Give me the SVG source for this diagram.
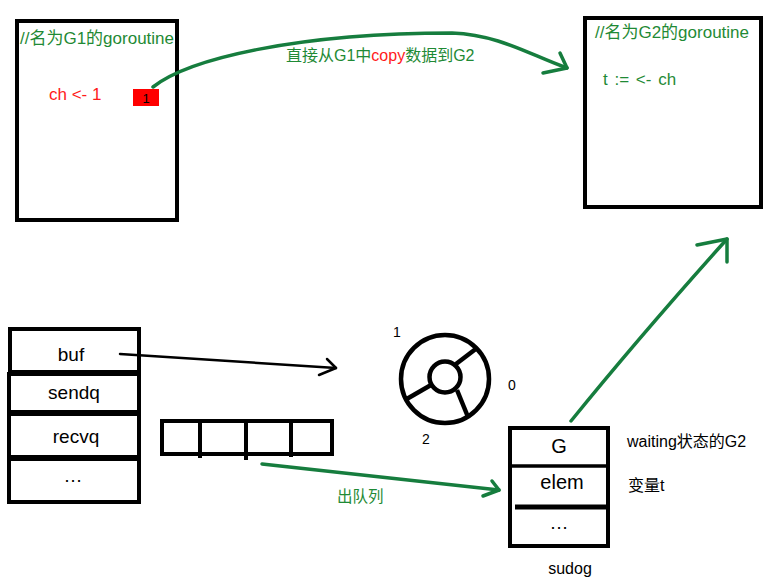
<svg xmlns="http://www.w3.org/2000/svg" width="774" height="584" viewBox="0 0 774 584">
<style>
text{font-family:"Liberation Sans","Noto Sans CJK SC",sans-serif;}
.box{fill:none;stroke:#000;stroke-width:4;}
.g{fill:#1f8a35;}
.r{fill:#ff1a1a;}
.k{fill:#000;}
.gl{fill:none;stroke:#167d3e;stroke-width:3.5;stroke-linecap:round;stroke-linejoin:round;}
.bl{fill:none;stroke:#000;stroke-width:2.5;stroke-linecap:round;stroke-linejoin:round;}
</style>
<rect width="774" height="584" fill="#fff"/>
<g id="g1">
<rect class="box" x="17" y="21" width="160" height="199"/>
<text class="g" x="20" y="44" font-size="17">//名为G1的goroutine</text>
<text class="r" x="49" y="100" font-size="17">ch &lt;- 1</text>
<rect x="133" y="89" width="26" height="17" fill="#ff0000"/>
<text class="k" x="146" y="103" font-size="13" text-anchor="middle">1</text>
</g>
<g id="g2">
<rect class="box" x="585" y="18" width="176" height="189"/>
<text class="g" x="595" y="38" font-size="17">//名为G2的goroutine</text>
<text class="g" x="603" y="85" font-size="17" word-spacing="2">t := &lt;- ch</text>
</g>
<g id="hchan">
<rect class="box" x="10" y="329" width="129" height="43"/>
<rect class="box" x="9" y="374" width="130" height="38"/>
<rect class="box" x="9" y="414" width="130" height="43"/>
<rect class="box" x="9" y="459" width="130" height="43"/>
<text class="k" x="71" y="361" font-size="19" text-anchor="middle">buf</text>
<text class="k" x="74" y="399" font-size="19" text-anchor="middle">sendq</text>
<text class="k" x="76" y="443" font-size="19" text-anchor="middle">recvq</text>
<text class="k" x="73" y="482" font-size="19" text-anchor="middle">…</text>
</g>
<g id="queue">
<rect class="box" x="162" y="421" width="170" height="33"/>
<line x1="200" y1="421" x2="200" y2="458" stroke="#000" stroke-width="4"/>
<line x1="246" y1="421" x2="246" y2="460" stroke="#000" stroke-width="4"/>
<line x1="291" y1="421" x2="291" y2="457" stroke="#000" stroke-width="4"/>
</g>
<g id="ring">
<circle cx="445" cy="379" r="44" fill="none" stroke="#000" stroke-width="4.5"/>
<circle cx="445" cy="377" r="15.5" fill="none" stroke="#000" stroke-width="4.5"/>
<line x1="456" y1="364" x2="477" y2="348" stroke="#000" stroke-width="4.5"/>
<line x1="431" y1="385" x2="405" y2="400" stroke="#000" stroke-width="4.5"/>
<line x1="457" y1="390" x2="468" y2="417" stroke="#000" stroke-width="4.5"/>
<text class="k" x="393" y="337" font-size="14">1</text>
<text class="k" x="508" y="390" font-size="14">0</text>
<text class="k" x="422" y="444" font-size="14">2</text>
</g>
<g id="sudog">
<rect class="box" x="510" y="428" width="98" height="118"/>
<line x1="510" y1="466" x2="608" y2="466" stroke="#000" stroke-width="3.5"/>
<line x1="515" y1="507" x2="608" y2="507" stroke="#000" stroke-width="5"/>
<text class="k" x="559" y="453" font-size="20" text-anchor="middle">G</text>
<text class="k" x="562" y="489" font-size="20" text-anchor="middle">elem</text>
<text class="k" x="559" y="529" font-size="19" text-anchor="middle">…</text>
<text class="k" x="570" y="574" font-size="16" text-anchor="middle">sudog</text>
<text class="k" x="627" y="447" font-size="16">waiting状态的G2</text>
<text class="k" x="628" y="491" font-size="16">变量t</text>
</g>
<g id="connectors">
<path class="gl" d="M153,87 C190,58 300,33 452,33 C500,35 530,55 567,68"/>
<path class="gl" d="M560,53 L567,68 L543,73"/>
<text class="g" x="286" y="61" font-size="16">直接从G1中<tspan fill="#ff1a1a">copy</tspan>数据到G2</text>
<path class="bl" d="M120,354 L336,368"/>
<path class="bl" d="M327,359 L336,368 L319,375"/>
<path class="gl" d="M262,464 L499,490"/>
<path class="gl" d="M492,481 L499,490 L483,496"/>
<text class="g" x="337" y="502" font-size="15.5">出队列</text>
<path class="gl" d="M571,421 Q640,336 727,239"/>
<path class="gl" d="M697,245 L727,239 L727,262"/>
</g>
</svg>
